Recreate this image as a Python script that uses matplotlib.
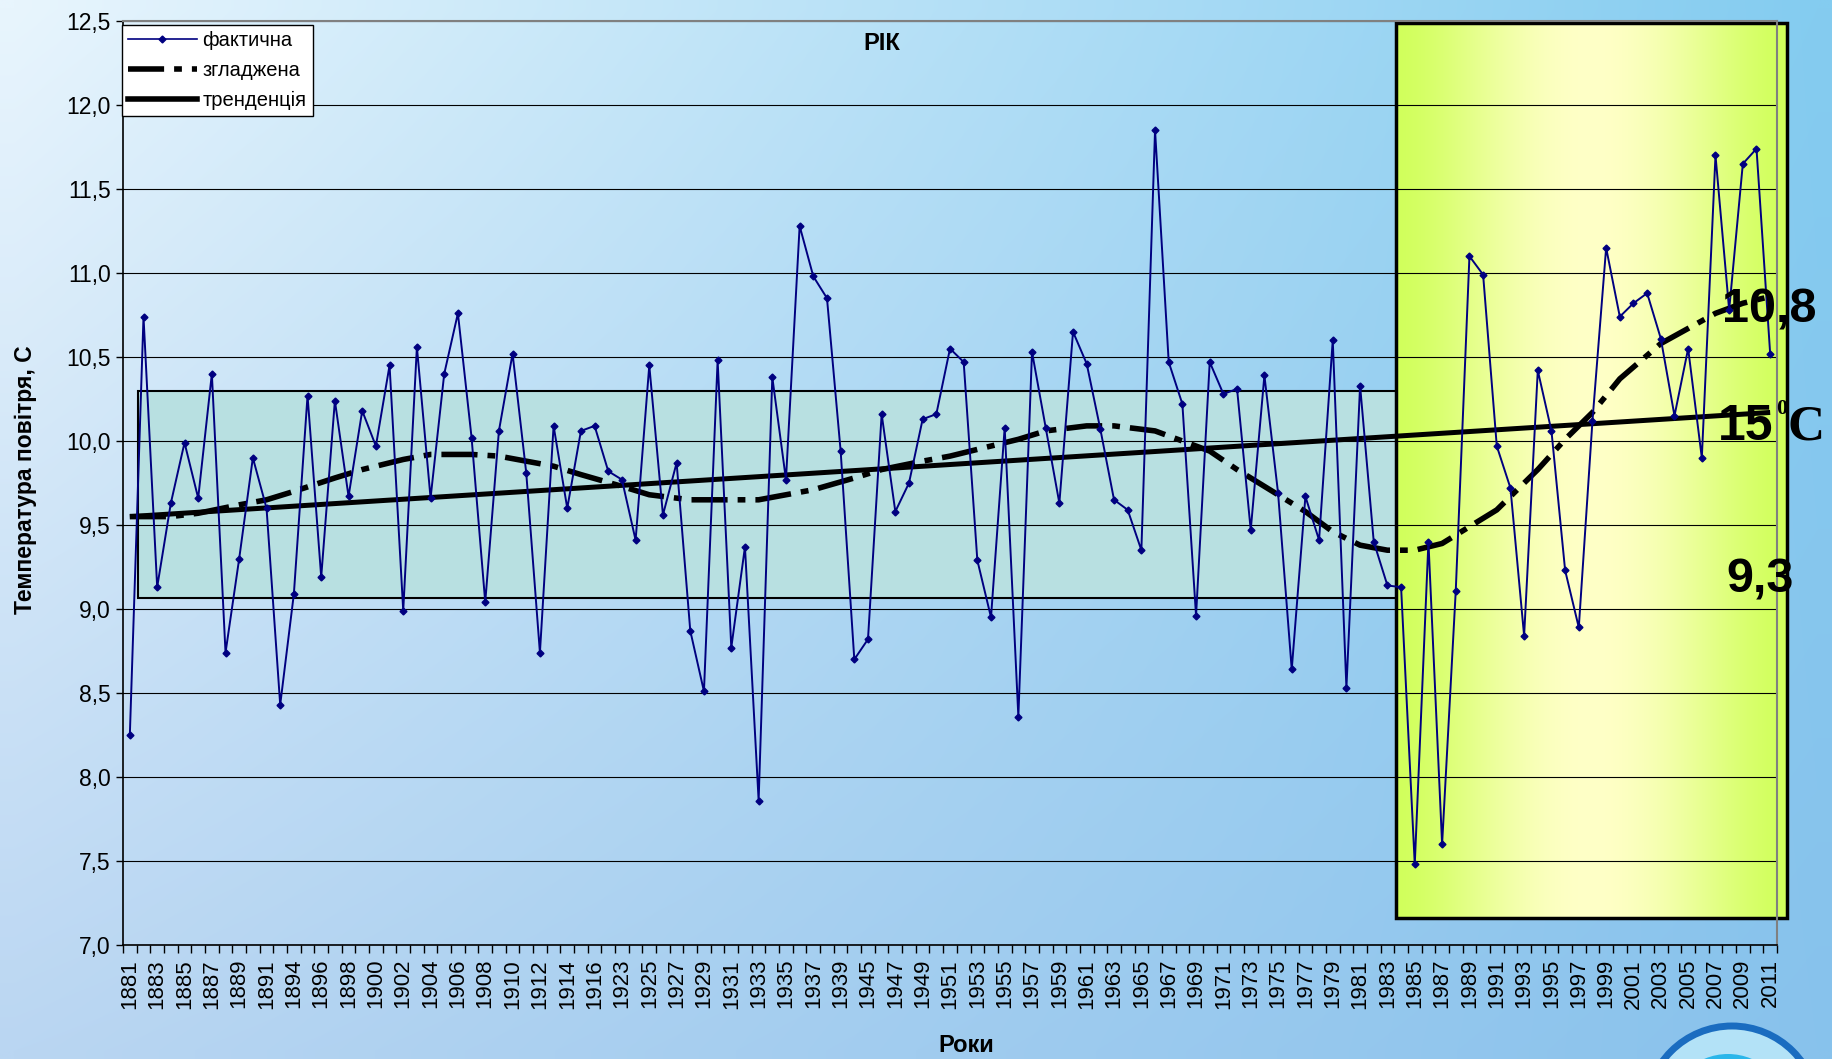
import numpy as np
import matplotlib
matplotlib.use("Agg")
import matplotlib.pyplot as plt
from matplotlib.patches import Rectangle, Ellipse
from matplotlib.lines import Line2D

plt.rcParams['font.family'] = ['Liberation Sans', 'DejaVu Sans']

# ---------------- data ----------------
years = ([str(y) for y in range(1881, 1892)] + ['1892'] +
         [str(y) for y in range(1894, 1917)] + ['1922'] +
         [str(y) for y in range(1923, 1940)] + ['1944'] +
         [str(y) for y in range(1945, 2012)])

actual = [8.25, 10.74, 9.13, 9.63, 9.99, 9.66, 10.40, 8.74, 9.30, 9.90, 9.60,
          8.43,
          9.09, 10.27, 9.19, 10.24, 9.67, 10.18, 9.97, 10.45, 8.99, 10.56, 9.66,
          10.40, 10.76, 10.02, 9.04, 10.06, 10.52, 9.81, 8.74, 10.09, 9.60, 10.06, 10.09,
          9.82,
          9.77, 9.41, 10.45, 9.56, 9.87, 8.87, 8.51, 10.48, 8.77, 9.37, 7.86, 10.38,
          9.77, 11.28, 10.98, 10.85, 9.94,
          8.70,
          8.82, 10.16, 9.58, 9.75, 10.13, 10.16, 10.55, 10.47,
          9.29, 8.95, 10.08, 8.36, 10.53, 10.08, 9.63, 10.65, 10.46, 10.07, 9.65, 9.59,
          9.35, 11.85, 10.47, 10.22, 8.96, 10.47, 10.28, 10.31, 9.47, 10.39, 9.69, 8.64,
          9.67, 9.41, 10.60, 8.53, 10.33, 9.40, 9.14, 9.13,
          7.48, 9.40, 7.60, 9.11, 11.10, 10.99, 9.97, 9.72, 8.84, 10.42, 10.06, 9.23,
          8.89, 10.12, 11.15, 10.74, 10.82, 10.88, 10.61, 10.15, 10.55, 9.90, 11.70,
          10.78, 11.65, 11.74, 10.52]

# smoothed curve, read at category positions
smooth_idx = [0, 3, 5, 8, 10, 12, 15, 17, 20, 22, 25, 27, 29, 31, 33, 36, 38, 41, 43,
              46, 48, 50, 53, 55, 58, 60, 63, 65, 67, 70, 72, 75, 77, 79, 81, 84, 86,
              88, 90, 92, 94, 96, 97, 100, 103, 105, 107, 109, 112, 114, 116, 118, 120]
smooth_val = [9.55, 9.55, 9.57, 9.62, 9.65, 9.70, 9.78, 9.83, 9.89, 9.92, 9.92, 9.91,
              9.88, 9.85, 9.80, 9.73, 9.68, 9.65, 9.65, 9.65, 9.68, 9.71, 9.78, 9.83,
              9.88, 9.91, 9.97, 10.01, 10.06, 10.09, 10.09, 10.06, 10.00, 9.94, 9.83,
              9.68, 9.58, 9.46, 9.38, 9.35, 9.35, 9.39, 9.44, 9.59, 9.83, 10.01, 10.17,
              10.37, 10.58, 10.67, 10.76, 10.82, 10.86]

# linear trend (end points)
trend_idx = [0, 120]
trend_val = [9.55, 10.17]

legend_labels = ['фактична', 'згладжена', 'тренденція']
yticks = [7.0, 7.5, 8.0, 8.5, 9.0, 9.5, 10.0, 10.5, 11.0, 11.5, 12.0, 12.5]

# ---------------- figure ----------------
W, H = 1832, 1059
fig = plt.figure(figsize=(W / 100, H / 100), dpi=100)

# background gradient
bg = fig.add_axes([0, 0, 1, 1], zorder=-10)
tl = np.array([232, 245, 253]) / 255
tr = np.array([132, 204, 240]) / 255
bl = np.array([186, 214, 242]) / 255
br = np.array([136, 194, 236]) / 255
nx, ny = 64, 64
u = np.linspace(0, 1, nx)[None, :, None]
v = np.linspace(0, 1, ny)[:, None, None]
img = (1 - v) * ((1 - u) * tl + u * tr) + v * ((1 - u) * bl + u * br)
bg.imshow(img, extent=[0, 1, 0, 1], aspect='auto', interpolation='bilinear', origin='upper')
bg.set_axis_off()

ax = fig.add_axes([123 / W, 1 - 945 / H, (1777 - 123) / W, (945 - 21) / H])
ax.set_facecolor('none')
x = np.arange(len(years))

# teal box
ax.add_patch(Rectangle((0.63, 9.065), 93.0 - 0.63, 10.30 - 9.065, facecolor='#b8e0e1',
                       edgecolor='black', lw=1.5, zorder=1))

# yellow gradient box
yx0, yx1, yy0, yy1 = 92.6, 121.2, 7.16, 12.49
t = np.linspace(0, 1, 200)
f = np.sin(np.pi * t) ** 1.5
edge = np.array([0.82, 1.0, 0.36])
center = np.array([1.0, 1.0, 0.78])
grad = (edge[None, :] + (center - edge)[None, :] * f[:, None])[None, :, :]
im = ax.imshow(grad, extent=[yx0, yx1, yy0, yy1], aspect='auto', zorder=1.05,
               interpolation='bilinear')
im.set_clip_on(False)
ax.add_patch(Rectangle((yx0, yy0), yx1 - yx0, yy1 - yy0, fill=False, edgecolor='black',
                       lw=2.5, zorder=1.1, clip_on=False))

# grid
ax.set_axisbelow('line')
ax.grid(axis='y', color='black', lw=0.8)

# series
dash = (0, (6.5, 1.8, 1.4, 1.8))
ax.plot(trend_idx, trend_val, color='black', lw=3.6, zorder=2.0, solid_capstyle='butt')
ax.plot(smooth_idx, smooth_val, color='black', lw=4, linestyle=dash, zorder=2.1,
        dash_capstyle='butt')
ax.plot(x, actual, color='#000080', lw=1.4, marker='D', ms=3.5, zorder=2.2)

ax.set_xlim(-0.5, len(years) - 0.5)
ax.set_ylim(7.0, 12.5)

# ticks
ax.set_yticks(yticks)
ax.set_yticklabels([f"{v:.1f}".replace('.', ',') for v in yticks], fontsize=16.5)
ax.tick_params(axis='y', length=5, width=1, pad=4, direction='out')
ax.set_xticks(x[::2])
ax.set_xticklabels(years[::2], rotation=90, fontsize=16)
ax.set_xticks(np.arange(-0.5, len(years), 1), minor=True)
ax.tick_params(axis='x', which='major', length=0, pad=10)
ax.tick_params(axis='x', which='minor', length=6, width=1, direction='out')

for s in ['top', 'right']:
    ax.spines[s].set_color('#808080')
    ax.spines[s].set_linewidth(1.5)
for s in ['left', 'bottom']:
    ax.spines[s].set_color('black')
    ax.spines[s].set_linewidth(1.2)

# legend
handles = [Line2D([], [], color='#000080', lw=1.2, marker='D', ms=3.5),
           Line2D([], [], color='black', lw=4, linestyle=dash, dash_capstyle='butt'),
           Line2D([], [], color='black', lw=4)]
leg = ax.legend(handles, legend_labels, loc='upper left',
                bbox_to_anchor=(122 / W, 1 - 25 / H), bbox_transform=fig.transFigure,
                fontsize=14.5, frameon=True, fancybox=False, framealpha=1,
                edgecolor='black', facecolor='white', handlelength=3.4,
                handletextpad=0.3, labelspacing=0.55, borderpad=0.3, borderaxespad=0)
leg.get_frame().set_linewidth(1.0)
leg.set_zorder(5)

# titles / labels
fig.text(882 / W, 1 - 44 / H, 'РІК', ha='center', va='center', fontsize=17, weight='bold')
fig.text(26 / W, 1 - 480 / H, 'Температура повітря, С', rotation=90, ha='center',
         va='center', fontsize=16.5, weight='bold')
fig.text(966 / W, 1 - 1045 / H, 'Роки', ha='center', va='center', fontsize=17,
         weight='bold')

# annotations
fig.text(1722 / W, 1 - 323 / H, '10,8', ha='left', va='baseline', fontsize=35,
         weight='bold')
fig.text(1718 / W, 1 - 440 / H, '15', ha='left', va='baseline', fontsize=36,
         weight='bold')
fig.text(1776 / W, 1 - 414 / H, '0', ha='left', va='baseline', fontsize=16,
         weight='bold', family=['Liberation Serif'])
fig.text(1788 / W, 1 - 440 / H, 'C', ha='left', va='baseline', fontsize=37,
         weight='bold', family=['Liberation Serif'])
fig.text(1726 / W, 1 - 593 / H, '9,3', ha='left', va='baseline', fontsize=35,
         weight='bold')

# logo (partial) at bottom right
r1 = 86
fig.add_artist(Ellipse((1732 / W, 1 - 1112 / H), 2 * r1 / W, 2 * r1 / H,
                       transform=fig.transFigure, facecolor='#b3e2f7',
                       edgecolor='#1a6cc0', lw=5))
r2 = 60
fig.add_artist(Ellipse((1728 / W, 1 - 1114 / H), 2 * r2 / W, 2 * r2 / H,
                       transform=fig.transFigure, facecolor='#2bb6ea', edgecolor='none'))

fig.savefig('out.png', dpi=100)
